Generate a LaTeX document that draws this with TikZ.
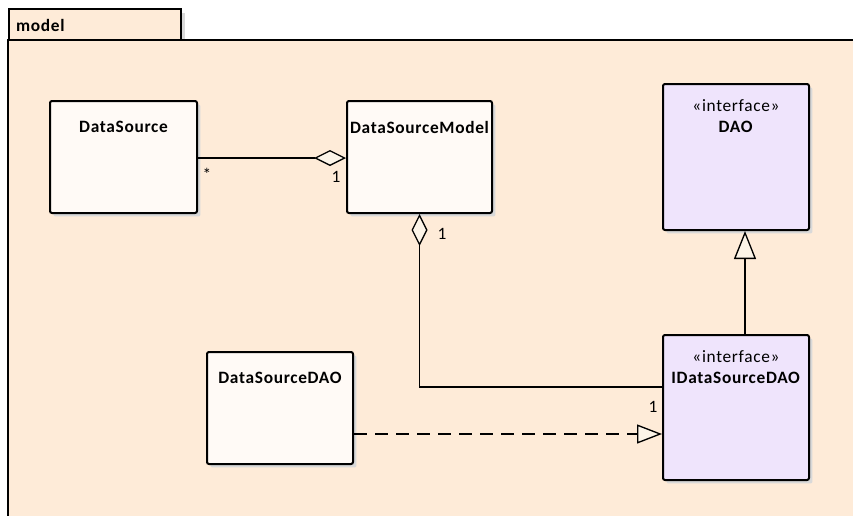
\documentclass[tikz,border=0pt]{standalone}
\usepackage{fontspec}
\setmainfont[LetterSpace=4]{Carlito}
\usetikzlibrary{arrows.meta,shadows,calc}

\definecolor{pkgfill}{HTML}{FEEBD8}
\definecolor{classfill}{HTML}{FFFAF6}
\definecolor{ifacefill}{HTML}{EFE4FC}
\definecolor{tipfill}{HTML}{FCF4E8}
\definecolor{shadowgray}{HTML}{D9D9D9}

\newcommand{\umlfont}{\fontsize{13pt}{15.75pt}\selectfont}

\tikzset{
  umlshadow/.style={drop shadow={shadow xshift=2.6pt, shadow yshift=-2.6pt,
      fill=shadowgray, opacity=1}},
  classbox/.style={draw=black, line width=1.5pt, rounded corners=1.5pt,
      fill=classfill, umlshadow, inner sep=0pt},
  ifacebox/.style={classbox, fill=ifacefill},
  boxtitle/.style={anchor=north, inner sep=0pt, align=center, font=\umlfont},
  nametitle/.style={boxtitle, font=\umlfont\bfseries},
  frameline/.style={line width=1.6pt, black},
  conn/.style={line width=1pt, black},
  aggr/.style={conn, {Diamond[length=24pt, width=12pt, fill=tipfill]}-},
  gen/.style={conn, -{Triangle[length=21pt, width=16.5pt, fill=tipfill]}},
  real/.style={conn, dash pattern=on 9.75pt off 6pt,
      -{Triangle[length=18.75pt, width=14.25pt, fill=tipfill]}},
  mult/.style={inner sep=0pt}
}

\begin{document}
\begin{tikzpicture}[x=0.75pt, y=-0.75pt, font=\umlfont]
  \useasboundingbox (0,0) rectangle (853,515);
  \clip (0,0) rectangle (853,515);
  \fill[white] (0,0) rectangle (853,515);

  % package frame: tab first, then the body covering the tab's lower edge
  \node[draw=black, line width=1.6pt, fill=pkgfill, umlshadow, anchor=north west,
        minimum width=129pt, minimum height=24pt, inner xsep=5.25pt,
        text width=118.5pt, align=left, font=\umlfont\bfseries]
        (pkg) at (8,8) {model};
  \fill[pkgfill] (8,40) rectangle (870,530);
  \draw[frameline] (870,40) -- (8,40) -- (8,530);

  % classes
  \node[classbox, minimum width=110.25pt, minimum height=84pt,
        label={[nametitle, yshift=-15.5pt]north:DataSource}]
        (ds) at (123.5,157) {};
  \node[classbox, minimum width=108.75pt, minimum height=84pt,
        label={[nametitle, yshift=-15.5pt]north:DataSourceModel}]
        (dsm) at (419.5,157) {};
  \node[classbox, minimum width=109.5pt, minimum height=84pt,
        label={[nametitle, yshift=-15.5pt]north:DataSourceDAO}]
        (dsdao) at (280,408) {};

  % interfaces
  \node[ifacebox, minimum width=109.5pt, minimum height=109.5pt,
        label={[boxtitle, yshift=-12pt]north:{«interface»\\\textbf{DAO}}}]
        (dao) at (736,157) {};
  \node[ifacebox, minimum width=109.5pt, minimum height=108.75pt,
        label={[boxtitle, yshift=-12pt]north:{«interface»\\\textbf{IDataSourceDAO}}}]
        (idao) at (736,407.5) {};

  % aggregation DataSourceModel <>-- DataSource
  \draw[aggr] ($(dsm.west)+(0,1)$) -- ($(ds.east)+(0,1)$);
  \node[mult] (m-ds) at (207,174) {*};
  \node[mult] (m-dsm) at (336,177) {1};

  % aggregation DataSourceModel <>-- IDataSourceDAO
  \coordinate (bend) at ($(idao.west)+(0,-20.5)$);
  \draw[aggr] (dsm.south) -- (dsm.south |- bend) -- (bend);
  \node[mult] (m-dsm2) at (442,234) {1};
  \node[mult] (m-idao) at (653,407) {1};

  % generalization IDataSourceDAO --|> DAO
  \draw[gen] ($(idao.north)+(9,0)$) -- ($(dao.south)+(9,0)$);

  % realization DataSourceDAO ..|> IDataSourceDAO
  \coordinate (rstart) at ($(dsdao.east)+(0,26)$);
  \draw[real] (rstart) -- (rstart -| idao.west);
\end{tikzpicture}
\end{document}
